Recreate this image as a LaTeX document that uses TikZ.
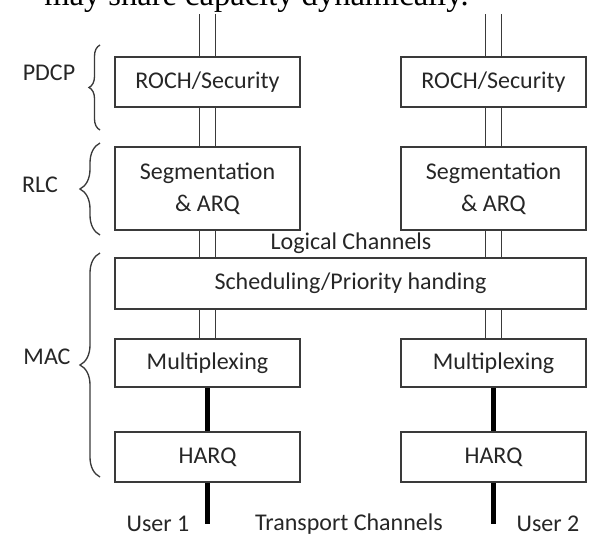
\documentclass[tikz,border=0pt]{standalone}
\usepackage{fontspec}
\setmainfont{Carlito}
\newfontfamily\capfont{Liberation Serif}
\usetikzlibrary{decorations.pathreplacing}
\definecolor{txt}{HTML}{262626}
\definecolor{ln}{HTML}{3a3a3a}
\begin{document}
\begin{tikzpicture}[x=0.75pt,y=-0.75pt,
  box/.style={draw=ln,line width=1.4pt,rectangle,minimum width=138.75pt,inner sep=0pt,
              align=center,text=txt,font=\fontsize{18}{24}\selectfont},
  lab/.style={text=txt,font=\fontsize{18}{24}\selectfont,inner sep=0pt},
  dbl/.style={draw=ln,line width=1pt},
  trunk/.style={line width=3.8pt,draw=black},
  brc/.style={decorate,decoration={brace,amplitude=#1},draw=ln,line width=1pt}]
\useasboundingbox (0,0) rectangle (598,539);
\clip (0,0) rectangle (598,539);

% cut-off caption text at the top
\node[anchor=base west,inner sep=0pt,font=\capfont\fontsize{24.4}{28}\selectfont] (cap) at (44,6) {may share capacity dynamically.};

% boxes
\node[box,minimum height=37.5pt] (roch1) at (207.5,82) {ROCH/Security};
\node[box,minimum height=37.5pt] (roch2) at (493.5,82) {ROCH/Security};
\node[box,minimum height=62.25pt] (seg1) at (207.5,188.5) {Segmentation\\\& ARQ};
\node[box,minimum height=62.25pt] (seg2) at (493.5,188.5) {Segmentation\\\& ARQ};
\node[box,minimum height=38.25pt,minimum width=353.25pt] (sched) at (350.5,283.5) {Scheduling/Priority handing};
\node[box,minimum height=36pt] (mux1) at (207.5,363) {Multiplexing};
\node[box,minimum height=36pt] (mux2) at (493.5,363) {Multiplexing};
\node[box,minimum height=37.5pt] (harq1) at (207.5,457) {HARQ};
\node[box,minimum height=37.5pt] (harq2) at (493.5,457) {HARQ};

% labels
\node[lab] (pdcp) at (49,73) {PDCP};
\node[lab] (rlc) at (40,185) {RLC};
\node[lab] (mac) at (47,357) {MAC};
\node[lab] (logch) at (351,243) {Logical Channels};
\node[lab] (user1) at (158,524) {User 1};
\node[lab] (trch) at (349,524) {Transport Channels};
\node[lab] (user2) at (548,524) {User 2};

% free ends and junctions
\coordinate (t1) at (207.5,14);
\coordinate (t2) at (493.5,14);
\coordinate (b1) at (207.5,524);
\coordinate (b2) at (493.5,524);
\path (seg1.south |- sched.north) coordinate (s1n);
\path (seg2.south |- sched.north) coordinate (s2n);
\path (mux1.north |- sched.south) coordinate (s1s);
\path (mux2.north |- sched.south) coordinate (s2s);

% double-line channels
\foreach \s in {-6pt,6pt}{
  \draw[dbl] ([xshift=\s]t1) -- ([xshift=\s]roch1.north);
  \draw[dbl] ([xshift=\s]t2) -- ([xshift=\s]roch2.north);
  \draw[dbl] ([xshift=\s]roch1.south) -- ([xshift=\s]seg1.north);
  \draw[dbl] ([xshift=\s]roch2.south) -- ([xshift=\s]seg2.north);
  \draw[dbl] ([xshift=\s]seg1.south) -- ([xshift=\s]s1n);
  \draw[dbl] ([xshift=\s]seg2.south) -- ([xshift=\s]s2n);
  \draw[dbl] ([xshift=\s]s1s) -- ([xshift=\s]mux1.north);
  \draw[dbl] ([xshift=\s]s2s) -- ([xshift=\s]mux2.north);
}

% transport channels (thick)
\draw[trunk] (mux1.south) -- (harq1.north);
\draw[trunk] (mux2.south) -- (harq2.north);
\draw[trunk] (harq1.south) -- (b1);
\draw[trunk] (harq2.south) -- (b2);

% braces
\draw[brc=8.25pt] (100,130) -- (100,45);
\draw[brc=15pt] (100,235) -- (100,143);
\draw[brc=15pt] (100,477) -- (100,253);
\end{tikzpicture}
\end{document}
